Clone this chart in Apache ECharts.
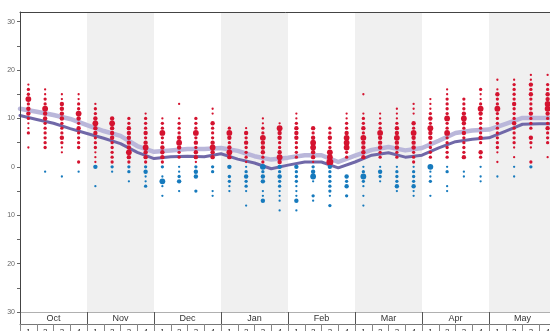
<!DOCTYPE html>
<html>
<head>
<meta charset="utf-8">
<script src="https://cdn.jsdelivr.net/npm/echarts@6/dist/echarts.min.js"></script>
<style>
  html, body { margin: 0; padding: 0; background: #fff; }
  #chart { width: 550px; height: 331px; }
</style>
</head>
<body>
<div id="chart"></div>
<script>
const months = ['Oct', 'Nov', 'Dec', 'Jan', 'Feb', 'Mar', 'Apr', 'May'];
const weekLabels = ['1', '2', '3', '4'];
const yLabelValues = [-30, -20, -10, 0, 10, 20, 30];
const yTickValues = [-30, -25, -20, -15, -10, -5, 0, 5, 10, 15, 20, 25, 30];

// each week: [temperature, count] pairs
const oct = [
  [[17,1],[16,2],[15,2],[14,4],[13,2],[12,3],[11,3],[10,2],[9,1],[8,1],[7,2],[4,1]],
  [[16,1],[15,1],[14,2],[13,2],[12,4],[11,3],[10,3],[9,2],[8,2],[7,2],[6,2],[5,2],[4,2],[-1,1]],
  [[15,1],[14,1],[13,3],[12,3],[11,3],[10,3],[9,2],[8,2],[7,2],[6,3],[5,2],[4,1],[3,1],[-2,1]],
  [[15,1],[14,1],[13,2],[12,2],[11,4],[10,3],[9,2],[8,3],[7,2],[6,2],[5,2],[4,2],[1,2],[-1,1]]
];
const nov = [
  [[13,1],[12,2],[11,2],[10,3],[9,4],[8,3],[7,3],[6,2],[5,2],[4,2],[3,1],[2,1],[1,1],[0,3],[-4,1]],
  [[10,3],[9,4],[8,3],[7,3],[6,3],[5,2],[4,2],[3,2],[2,2],[1,2],[0,2],[-1,1]],
  [[10,2],[9,2],[8,3],[7,3],[6,3],[5,3],[4,3],[3,4],[2,3],[1,2],[0,2],[-1,2],[-3,1]],
  [[11,1],[10,2],[9,2],[8,2],[7,3],[6,2],[5,3],[4,4],[3,3],[2,3],[1,2],[0,2],[-1,3],[-2,1],[-3,1],[-4,2]]
];
const dec = [
  [[10,1],[9,2],[8,2],[7,4],[6,2],[5,2],[4,3],[3,3],[2,3],[1,2],[0,2],[-2,1],[-3,4],[-4,1],[-6,1]],
  [[13,1],[10,1],[9,2],[8,2],[7,2],[6,3],[5,4],[4,3],[3,2],[2,2],[0,1],[-1,1],[-2,2],[-3,3],[-5,1]],
  [[10,2],[9,2],[8,2],[7,4],[6,2],[5,3],[4,2],[3,3],[2,3],[1,1],[0,2],[-1,3],[-2,3],[-5,2]],
  [[12,1],[11,1],[9,3],[8,2],[7,2],[6,2],[5,3],[4,4],[3,3],[2,3],[0,2],[-1,2],[-5,1],[-6,1]]
];
const jan = [
  [[8,2],[7,4],[6,3],[5,2],[4,3],[3,4],[2,3],[0,3],[-2,2],[-3,2],[-4,1],[-5,1]],
  [[8,1],[7,3],[6,2],[5,3],[4,2],[3,2],[2,2],[1,1],[0,1],[-1,2],[-2,3],[-3,2],[-4,2],[-5,1],[-8,1]],
  [[10,1],[9,1],[8,2],[7,2],[6,4],[5,3],[4,3],[3,3],[2,2],[1,2],[0,4],[-1,2],[-2,3],[-3,3],[-5,1],[-6,1],[-7,3]],
  [[9,1],[8,4],[7,3],[6,3],[5,2],[4,2],[3,3],[2,4],[1,3],[0,3],[-1,2],[-2,3],[-3,2],[-4,2],[-5,1],[-6,1],[-7,1],[-9,1]]
];
const feb = [
  [[11,1],[10,1],[9,2],[8,3],[7,3],[6,3],[5,2],[4,2],[3,2],[2,2],[0,3],[-1,2],[-2,2],[-3,2],[-4,1],[-5,1],[-6,1],[-7,3],[-9,1]],
  [[8,3],[7,2],[6,3],[5,4],[4,4],[3,3],[2,3],[1,1],[0,2],[-1,3],[-2,4],[-3,1],[-6,2],[-7,1]],
  [[8,2],[7,2],[6,3],[5,2],[4,2],[3,4],[2,4],[1,5],[0,3],[-1,2],[-2,2],[-3,2],[-4,2],[-5,2],[-6,1],[-8,2]],
  [[11,1],[10,1],[9,2],[8,2],[7,3],[6,4],[5,4],[4,4],[3,2],[2,2],[-2,3],[-3,2],[-4,3],[-6,2]]
];
const mar = [
  [[15,1],[11,1],[10,2],[9,2],[8,3],[7,2],[6,4],[5,3],[4,3],[3,3],[2,3],[0,1],[-1,2],[-2,4],[-3,2],[-4,1],[-6,1],[-8,1]],
  [[11,1],[10,1],[9,2],[8,2],[7,4],[6,3],[5,3],[4,3],[3,2],[2,2],[0,1],[-1,3],[-2,2],[-3,1]],
  [[12,1],[11,1],[10,1],[9,2],[8,3],[7,3],[6,4],[5,3],[4,3],[3,2],[2,2],[0,1],[-1,2],[-2,2],[-3,2],[-4,3],[-5,1]],
  [[13,1],[12,1],[11,1],[9,3],[8,2],[7,4],[6,3],[5,3],[4,3],[3,2],[2,2],[1,2],[0,1],[-1,2],[-2,2],[-3,2],[-4,3],[-5,1],[-6,1]]
];
const apr = [
  [[14,1],[13,1],[12,1],[11,2],[10,3],[9,2],[8,4],[7,3],[6,3],[5,2],[4,2],[3,2],[2,2],[0,4],[-1,1],[-2,1],[-3,2],[-6,1]],
  [[16,1],[15,1],[14,2],[13,2],[12,2],[11,2],[10,4],[9,2],[8,2],[7,4],[6,2],[5,2],[4,2],[3,2],[2,2],[0,1],[-1,2],[-4,1],[-5,1]],
  [[14,2],[13,2],[12,2],[11,3],[10,4],[9,3],[8,2],[7,3],[6,2],[5,2],[4,2],[3,2],[2,3],[-1,1],[-2,1]],
  [[16,2],[15,1],[14,1],[13,2],[12,4],[11,3],[10,2],[9,2],[8,2],[7,2],[6,3],[5,2],[3,3],[2,2],[0,1],[-2,1],[-3,1]]
];
const may = [
  [[18,1],[16,1],[15,3],[14,2],[13,2],[12,4],[11,2],[10,2],[9,2],[8,2],[7,2],[6,2],[5,2],[4,2],[3,1],[1,1],[-2,1]],
  [[18,1],[17,2],[16,2],[15,2],[14,2],[13,3],[12,2],[11,2],[10,2],[9,3],[8,2],[7,2],[6,2],[5,2],[4,1],[2,1],[0,1],[-2,1]],
  [[19,1],[18,1],[17,3],[16,2],[15,3],[14,2],[13,2],[12,2],[11,3],[10,2],[9,2],[8,2],[6,3],[5,2],[4,1],[1,2],[0,2]],
  [[19,1],[17,2],[16,2],[15,3],[14,3],[13,4],[12,4],[11,3],[10,2],[9,2],[8,3],[7,2],[6,2],[5,2],[2,1]]
];

// running averages, one value per week boundary (Oct 1 .. end of May)
const lightLine = [12.0, 11.4, 10.7, 9.9, 8.6, 7.4, 6.4, 4.3, 3.1, 3.4, 3.7, 3.7, 3.9, 3.3, 2.2, 1.5,
  1.9, 2.4, 2.4, 1.0, 2.3, 3.5, 4.1, 3.4, 3.9, 5.4, 7.0, 7.5, 7.7, 8.9, 10.1, 10.1, 10.1];
const darkLine = [10.6, 9.8, 9.0, 7.9, 6.9, 5.9, 4.8, 3.0, 1.7, 2.1, 2.2, 2.1, 2.7, 1.6, 0.8, -0.4,
  0.35, 1.0, 1.0, -0.2, 1.0, 2.4, 2.9, 2.0, 2.4, 3.9, 5.2, 5.7, 6.0, 7.4, 8.8, 8.9, 8.9];

const weeks = [oct, nov, dec, jan, feb, mar, apr, may].flat();
const points = [];
weeks.forEach((col, w) => {
  col.forEach(([t, n]) => points.push([w + 0.5, t, n]));
});
const warm = points.filter(p => p[1] > 0);
const cold = points.filter(p => p[1] <= 0);
const sizeOf = v => [0, 2.3, 3.3, 4.4, 5.8, 7][v[2]];

const weekAxisData = [];
months.forEach(m => weekLabels.forEach(l => weekAxisData.push(m + l)));

const font = 'Liberation Sans, Arial, sans-serif';
const chart = echarts.init(document.getElementById('chart'), null, { renderer: 'canvas' });
chart.setOption({
  animation: false,
  grid: { left: 20, top: 12, width: 536, height: 300, containLabel: false, outerBoundsMode: 'none' },
  xAxis: [
    {
      type: 'value', min: 0, max: 32, position: 'top', z: 10,
      axisLine: { show: true, onZero: false, lineStyle: { color: '#444', width: 1 } },
      axisTick: { show: false }, axisLabel: { show: false }, splitLine: { show: false }
    },
    {
      type: 'category', data: months, position: 'bottom', boundaryGap: true, z: 10,
      axisLine: { show: true, onZero: false, lineStyle: { color: '#b0b0b0', width: 1 } },
      axisTick: { show: true, interval: 0, length: 19, lineStyle: { color: '#555' } },
      axisLabel: { interval: 0, margin: 2, fontSize: 9, color: '#333', fontFamily: font },
      splitLine: { show: false }
    },
    {
      type: 'category', data: weekAxisData, position: 'bottom', offset: 12, boundaryGap: true, z: 10,
      axisLine: { show: true, onZero: false, lineStyle: { color: '#777', width: 1 } },
      axisTick: { show: true, interval: 0, length: 8, lineStyle: { color: '#888' } },
      axisLabel: {
        interval: 0, margin: 4, fontSize: 8, color: '#333', fontFamily: font,
        formatter: v => v.slice(3)
      },
      splitLine: { show: false }
    }
  ],
  yAxis: {
    type: 'value', min: -30, max: 32, z: 10,
    axisLine: { show: true, onZero: false, lineStyle: { color: '#444', width: 1 } },
    axisTick: { show: true, length: 3, customValues: yTickValues, lineStyle: { color: '#666' } },
    axisLabel: {
      customValues: yLabelValues, margin: 5, fontSize: 7, color: '#666', fontFamily: font,
      formatter: v => String(Math.abs(v))
    },
    splitLine: { show: false }
  },
  series: [
    {
      type: 'line', xAxisIndex: 0, data: [], z: 0, silent: true,
      markArea: {
        silent: true,
        itemStyle: { color: '#f0f0f0' },
        data: [[{ xAxis: 4 }, { xAxis: 8 }], [{ xAxis: 12 }, { xAxis: 16 }],
               [{ xAxis: 20 }, { xAxis: 24 }], [{ xAxis: 28 }, { xAxis: 32 }]]
      }
    },
    {
      type: 'line', xAxisIndex: 0, z: 2, symbol: 'none',
      data: lightLine.map((v, i) => [i, v]),
      lineStyle: { color: '#bab7da', width: 4.5, cap: 'round', join: 'round' }
    },
    {
      type: 'line', xAxisIndex: 0, z: 3, symbol: 'none',
      data: darkLine.map((v, i) => [i, v]),
      lineStyle: { color: '#7068a8', width: 3, cap: 'round', join: 'round' }
    },
    {
      type: 'scatter', xAxisIndex: 0, z: 4, data: warm, symbolSize: sizeOf,
      itemStyle: { color: '#d4132f', opacity: 1 }
    },
    {
      type: 'scatter', xAxisIndex: 0, z: 4, data: cold, symbolSize: sizeOf,
      itemStyle: { color: '#167abd', opacity: 1 }
    }
  ]
});
</script>
</body>
</html>
